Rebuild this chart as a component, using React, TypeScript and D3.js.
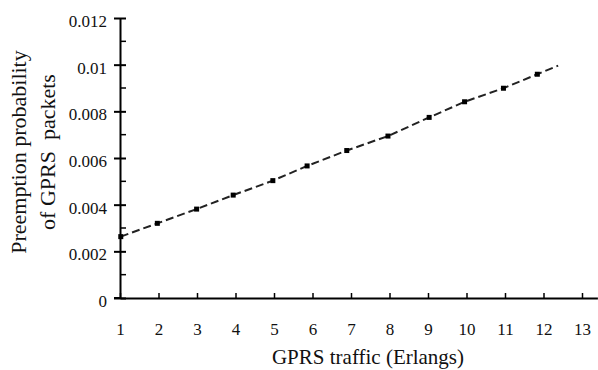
import React, { useEffect, useRef } from "react";
import * as d3 from "d3";

// values
const trafficX = [1.02, 1.97, 2.99, 3.94, 4.97, 5.86, 6.89, 7.96, 9.03, 9.95, 10.96, 11.84, 12.38];
const preemptProb = [0.00263, 0.0032, 0.00381, 0.00441, 0.00503, 0.00566, 0.00632, 0.00694, 0.00774, 0.00841, 0.00899, 0.00959, 0.00996];
const markerCount = 12; // last value is just the line end
const xTicks = [1, 2, 3, 4, 5, 6, 7, 8, 9, 10, 11, 12, 13];
const yTicks = [0, 0.002, 0.004, 0.006, 0.008, 0.01, 0.012];
const yMinor = [0.001, 0.003, 0.005, 0.007, 0.009, 0.011];
const yTickLabels = ["0", "0.002", "0.004", "0.006", "0.008", "0.01", "0.012"];

const W = 598;
const H = 370;
const font = "Liberation Serif";

const App = () => {
  const svgRef = useRef<SVGSVGElement>(null);

  useEffect(() => {
    const svg = d3.select(svgRef.current);
    svg.selectAll("*").remove();

    const x = d3.scaleLinear().domain([1, 13.4]).range([120, 597.4]);
    const y = d3.scaleLinear().domain([0, 0.012]).range([298, 18]);

    // x axis
    const gx = svg.append("g").attr("transform", `translate(0,${y(0)})`);
    gx.call(
      d3.axisBottom(x).tickValues(xTicks).tickSize(-5).tickSizeOuter(0).tickFormat(d3.format("d"))
    );
    gx.attr("font-family", font).attr("font-size", 17);
    gx.select(".domain").attr("stroke-width", 2);
    gx.selectAll(".tick line").attr("stroke-width", 1.5);
    gx.selectAll(".tick text")
      .attr("y", 31)
      .attr("dy", "0.35em")
      .attr("fill", "#111");
    // axis line starts a little left of the y axis
    gx.append("line").attr("x1", 114).attr("x2", 121).attr("y1", 0).attr("y2", 0).attr("stroke", "#000").attr("stroke-width", 2);

    // y axis
    const gy = svg.append("g").attr("transform", `translate(${x(1)},0)`);
    gy.call(
      d3.axisLeft(y).tickValues(yTicks).tickSize(6).tickSizeOuter(0)
        .tickFormat((d, i) => yTickLabels[i])
    );
    gy.attr("font-family", font).attr("font-size", 17);
    gy.select(".domain").attr("stroke-width", 2);
    gy.selectAll(".tick line").attr("x2", 6).attr("x1", -6).attr("stroke-width", 2);
    gy.selectAll(".tick text")
      .attr("x", -13)
      .attr("dy", "0.5em")
      .attr("fill", "#111");
    gy.selectAll(".minor")
      .data(yMinor)
      .join("line")
      .attr("x1", 0)
      .attr("x2", 6)
      .attr("y1", (d) => y(d))
      .attr("y2", (d) => y(d))
      .attr("stroke", "#000")
      .attr("stroke-width", 1.5);

    // data line
    const pts = trafficX.map((v, i) => [v, preemptProb[i]] as [number, number]);
    const line = d3.line<[number, number]>().x((d) => x(d[0])).y((d) => y(d[1]));
    svg.append("path")
      .datum(pts)
      .attr("d", line)
      .attr("fill", "none")
      .attr("stroke", "#222")
      .attr("stroke-width", 2)
      .attr("stroke-dasharray", "8,4");

    svg.selectAll(".mk")
      .data(pts.slice(0, markerCount))
      .join("rect")
      .attr("x", (d) => x(d[0]) - 2.5)
      .attr("y", (d) => y(d[1]) - 2.5)
      .attr("width", 5)
      .attr("height", 5)
      .attr("fill", "#000");

    // titles
    svg.append("text")
      .attr("x", 368)
      .attr("y", 364)
      .attr("text-anchor", "middle")
      .attr("font-family", font)
      .attr("font-size", 21)
      .attr("fill", "#111")
      .text("GPRS traffic (Erlangs)");

    const yl = svg.append("text")
      .attr("transform", "translate(0,152) rotate(-90)")
      .attr("text-anchor", "middle")
      .attr("font-family", font)
      .attr("font-size", 22)
      .attr("fill", "#111");
    yl.append("tspan").attr("x", 0).attr("y", 26).text("Preemption probability");
    yl.append("tspan").attr("x", 0).attr("y", 55).attr("xml:space", "preserve").text("of GPRS  packets");
  }, []);

  return (
    <svg
      ref={svgRef}
      width={W}
      height={H}
      style={{ position: "absolute", left: 0, top: 0, background: "#fff" }}
    />
  );
};

export default App;
